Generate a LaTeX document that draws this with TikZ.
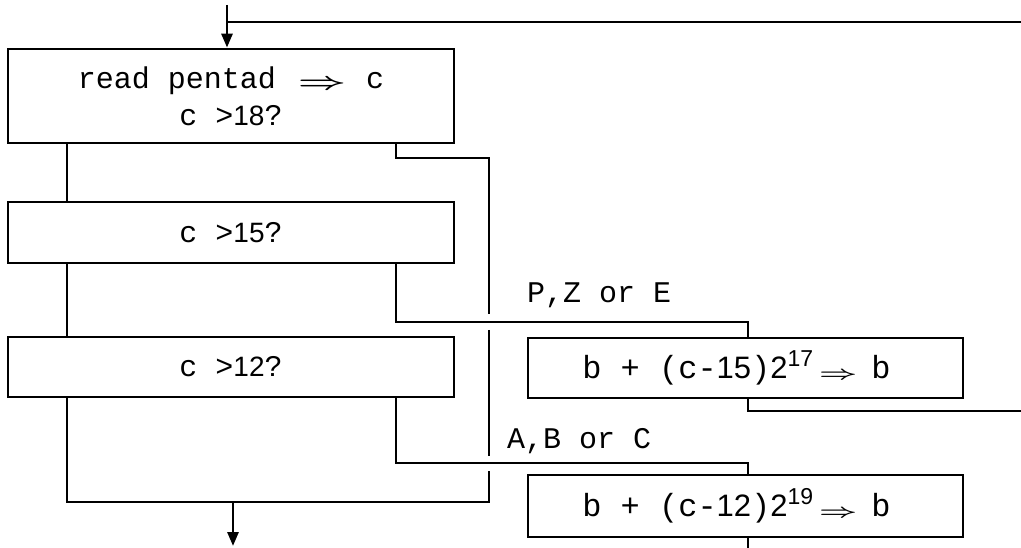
\documentclass[tikz,border=0pt]{standalone}
\usepackage{fix-cm}
\usepackage{fontspec}
\setmonofont{Liberation Mono}
\newfontfamily\dig{Liberation Sans}
\usetikzlibrary{arrows.meta}
\begin{document}
\begin{tikzpicture}[x=1pt,y=-1pt,
  txt/.style={font=\ttfamily\fontsize{30}{37}\selectfont},
  big/.style={font=\ttfamily\fontsize{32}{37}\selectfont},
  box/.style={draw, line width=2.8pt, inner sep=0pt, txt, align=center},
  wire/.style={line width=2.8pt},
  lbl/.style={txt, inner sep=0pt, anchor=base west},
  tip/.style={-{Triangle[length=14pt,width=11pt]}}
]
\newcommand{\dg}[1]{{\dig\fontsize{28}{28}\selectfont #1}}
\newcommand{\dgb}[1]{{\dig\fontsize{31}{31}\selectfont #1}}
\newcommand{\sups}[1]{\raisebox{12pt}{\dig\fontsize{23}{23}\selectfont #1}}
\newcommand{\larr}[1]{\raisebox{-1pt}{\scalebox{1.75}[1]{\fontsize{#1}{#1}\selectfont\boldmath$\Rightarrow$}}}
\useasboundingbox (0,0) rectangle (1021,548);
% boxes
\node[box, minimum width=446pt, minimum height=94pt] (b1) at (231,96) {read pentad\hspace{22pt}\larr{24}\hspace{20pt}c\\c >\dg{18}?};
\node[box, minimum width=446pt, minimum height=61pt] (b2) at (231,232.5) {c >\dg{15}?};
\node[box, minimum width=446pt, minimum height=60pt] (b3) at (231,367) {c >\dg{12}?};
\node[box, big, minimum width=435pt, minimum height=60pt] (b4) at (745.5,368) {b + (c-\dgb{15})\dgb{2}\sups{17}\hspace{6pt}\larr{19}\hspace{14pt}b\hspace*{18pt}};
\node[box, big, minimum width=435pt, minimum height=62pt] (b5) at (745.5,506) {b + (c-\dgb{12})\dgb{2}\sups{19}\hspace{6pt}\larr{19}\hspace{14pt}b\hspace*{18pt}};
% labels
\node[lbl] (lpz) at (527,303) {P,Z or E};
\node[lbl] (labc) at (507,448) {A,B or C};
% coordinates
\coordinate (inT) at (227,5);
\coordinate (topR) at (1021,22);
\coordinate (cl) at (67,0);
\coordinate (cr) at (396,0);
\coordinate (cv) at (489,0);
\coordinate (cb) at (748,0);
\coordinate (h1) at (0,158);
\coordinate (h2) at (0,322);
\coordinate (h3) at (0,463);
\coordinate (h4) at (0,411);
\coordinate (hb) at (0,502);
\coordinate (g1a) at (489,314);
\coordinate (g1b) at (489,330);
\coordinate (g2a) at (489,456);
\coordinate (g2b) at (489,471);
\coordinate (rE) at (1021,411);
\coordinate (exitT) at (233,502);
\coordinate (exitB) at (233,546);
\coordinate (bot) at (748,548);
% connectors
\draw[wire,tip] (inT) -- (b1.north -| inT);
\draw[wire] (inT |- topR) -- (topR);
\draw[wire] (b1.south -| cl) -- (b2.north -| cl);
\draw[wire] (b2.south -| cl) -- (b3.north -| cl);
\draw[wire] (b1.south -| cr) -- (cr |- h1) -- (cv |- h1) -- (g1a);
\draw[wire] (g1b) -- (g2a);
\draw[wire] (g2b) -- (cv |- hb) -- (cl |- hb) -- (b3.south -| cl);
\draw[wire] (b2.south -| cr) -- (cr |- h2) -- (cb |- h2) -- (b4.north -| cb);
\draw[wire] (b3.south -| cr) -- (cr |- h3) -- (cb |- h3) -- (b5.north -| cb);
\draw[wire] (b4.south -| cb) -- (cb |- h4) -- (rE);
\draw[wire] (b5.south -| cb) -- (bot);
\draw[wire,tip] (exitT) -- (exitB);
\end{tikzpicture}
\end{document}
